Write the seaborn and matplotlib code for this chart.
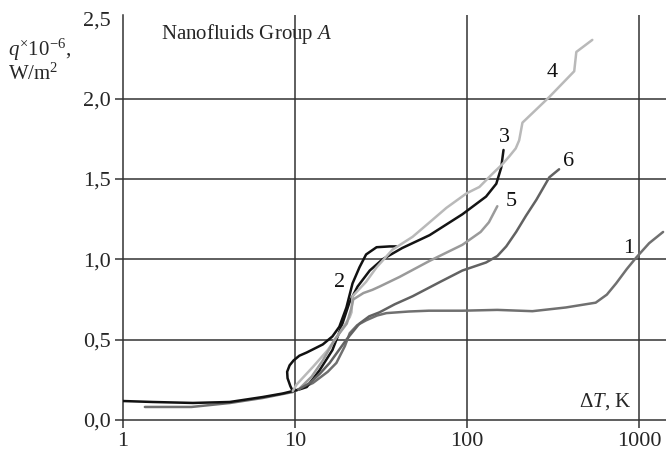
import numpy as np
import pandas as pd
import matplotlib
matplotlib.use("Agg")
import matplotlib.pyplot as plt
import seaborn as sns

# ---- data ----
curve1_x = [1.34, 2.5, 4.2, 6.5, 9.7, 12.7, 15.5, 17.4, 19.5, 20.8, 23, 25.9, 30, 34, 46, 60, 94, 150, 240, 375, 560, 650, 736, 850, 962, 1145, 1380]
curve1_y = [0.081, 0.081, 0.106, 0.137, 0.174, 0.23, 0.30, 0.355, 0.46, 0.54, 0.59, 0.62, 0.65, 0.665, 0.675, 0.68, 0.68, 0.685, 0.677, 0.70, 0.73, 0.78, 0.85, 0.94, 1.01, 1.10, 1.17]

curve2_x = [1.0, 1.49, 2.55, 4.17, 6.5, 8.5, 9.7, 9.4, 9.05, 9.0, 9.3, 9.8, 10.6, 11.7, 14.5, 16.5, 18.1, 19.9, 21.6, 23.7, 25.9, 29.8, 35.5, 38.9]
curve2_y = [0.118, 0.112, 0.106, 0.112, 0.143, 0.165, 0.18, 0.21, 0.26, 0.30, 0.34, 0.37, 0.40, 0.42, 0.47, 0.52, 0.58, 0.70, 0.85, 0.95, 1.03, 1.075, 1.08, 1.08]

curve3_x = [9.7, 10.6, 11.7, 13.9, 16.5, 18.6, 20.7, 23.1, 27.2, 32.3, 42, 60.6, 94, 129, 148, 158, 163]
curve3_y = [0.18, 0.19, 0.205, 0.31, 0.435, 0.58, 0.73, 0.83, 0.93, 1.0, 1.07, 1.15, 1.28, 1.39, 1.47, 1.57, 1.68]

curve4_x = [9.7, 10.2, 12.7, 15.5, 18.1, 20.8, 21.3, 21.6, 25.9, 29.8, 36.9, 48.3, 60.6, 75.9, 99.3, 118, 140, 160, 176, 192, 201, 210, 301, 420, 432, 535]
curve4_y = [0.18, 0.22, 0.33, 0.435, 0.54, 0.64, 0.67, 0.77, 0.86, 0.95, 1.06, 1.14, 1.23, 1.32, 1.41, 1.45, 1.53, 1.59, 1.64, 1.69, 1.74, 1.85, 2.01, 2.17, 2.29, 2.365]

curve5_x = [10.5, 12.5, 14.5, 17, 20, 21.3, 21.8, 25, 28.2, 31, 40.5, 60.6, 94, 120, 134, 150]
curve5_y = [0.19, 0.27, 0.37, 0.5, 0.6, 0.70, 0.75, 0.79, 0.81, 0.83, 0.89, 0.99, 1.09, 1.17, 1.23, 1.33]

curve6_x = [10.5, 12.2, 14, 15.9, 19.9, 23.7, 27, 31, 38, 48.3, 70, 94, 129, 150, 169, 193, 220, 253, 301, 343]
curve6_y = [0.19, 0.23, 0.29, 0.355, 0.5, 0.6, 0.645, 0.67, 0.72, 0.77, 0.86, 0.93, 0.98, 1.02, 1.08, 1.17, 1.27, 1.37, 1.51, 1.56]

curve_names = ["1", "2", "3", "4", "5", "6"]
curve_colors = ["#707070", "#111111", "#141414", "#b9b9b9", "#9a9a9a", "#626262"]
label_x = [876, 18.2, 165, 313, 181, 387]
label_y = [1.07, 0.856, 1.756, 2.16, 1.36, 1.61]

y_ticks = [0.0, 0.5, 1.0, 1.5, 2.0, 2.5]
y_ticklabels = ["0,0", "0,5", "1,0", "1,5", "2,0", "2,5"]
x_ticks = [1, 10, 100, 1000]
x_ticklabels = ["1", "10", "100", "1000"]

xs = [curve1_x, curve2_x, curve3_x, curve4_x, curve5_x, curve6_x]
ys = [curve1_y, curve2_y, curve3_y, curve4_y, curve5_y, curve6_y]
frames = []
for name, x, y in zip(curve_names, xs, ys):
    frames.append(pd.DataFrame({"dT": x, "q": y, "curve": name}))
df = pd.concat(frames, ignore_index=True)

# ---- styling ----
sns.set_style("white")
plt.rcParams["font.family"] = ["Liberation Serif", "DejaVu Serif"]
plt.rcParams["mathtext.fontset"] = "custom"
plt.rcParams["mathtext.rm"] = "Liberation Serif"
plt.rcParams["mathtext.it"] = "Liberation Serif:italic"

fig = plt.figure(figsize=(6.66, 4.5), dpi=100)
ax = fig.add_axes([0.1847, 0.0667, 0.8153, 0.9])

grid_col = "#333333"
for yv in [0.5, 1.0, 1.5, 2.0]:
    ax.axhline(yv, color=grid_col, lw=1.1, zorder=1)
for xv in [10, 100, 1000]:
    ax.axvline(xv, color=grid_col, lw=1.1, zorder=1)

sns.lineplot(data=df, x="dT", y="q", hue="curve", units="curve", estimator=None,
             sort=False, palette=dict(zip(curve_names, curve_colors)),
             hue_order=curve_names, legend=False, lw=1.8, ax=ax, zorder=3)

ax.set_xscale("log")
ax.set_xlim(1, 1435)
ax.set_ylim(0, 2.52)
ax.set_xticks(x_ticks)
ax.set_xticklabels(x_ticklabels)
ax.minorticks_off()
ax.set_yticks(y_ticks)
ax.set_yticklabels(y_ticklabels)
ax.tick_params(axis="both", direction="out", length=6, width=1.1, color=grid_col,
               labelsize=16, pad=3, left=True, bottom=True)
ax.yaxis.get_major_ticks()[-1].tick1line.set_visible(False)
ax.set_xlabel("")
ax.set_ylabel("")
for s in ["top", "right"]:
    ax.spines[s].set_visible(False)
for s in ["left", "bottom"]:
    ax.spines[s].set_color(grid_col)
    ax.spines[s].set_linewidth(1.1)

for name, lx, ly in zip(curve_names, label_x, label_y):
    ax.text(lx, ly, name, fontsize=16, ha="center", va="center", color="#111111")

ax.text(1.66, 2.40, r"Nanofluids Group $A$", fontsize=15, ha="left", va="center")
ax.text(900, 0.05, r"Δ$T$, K", fontsize=15, ha="right", va="bottom")

fig.text(0.012, 0.89, r"$q^{\times}$10$^{-6}$,", fontsize=15, ha="left", va="center")
fig.text(0.012, 0.835, r"W/m$^{2}$", fontsize=15, ha="left", va="center")

fig.savefig("out.png", dpi=100)
